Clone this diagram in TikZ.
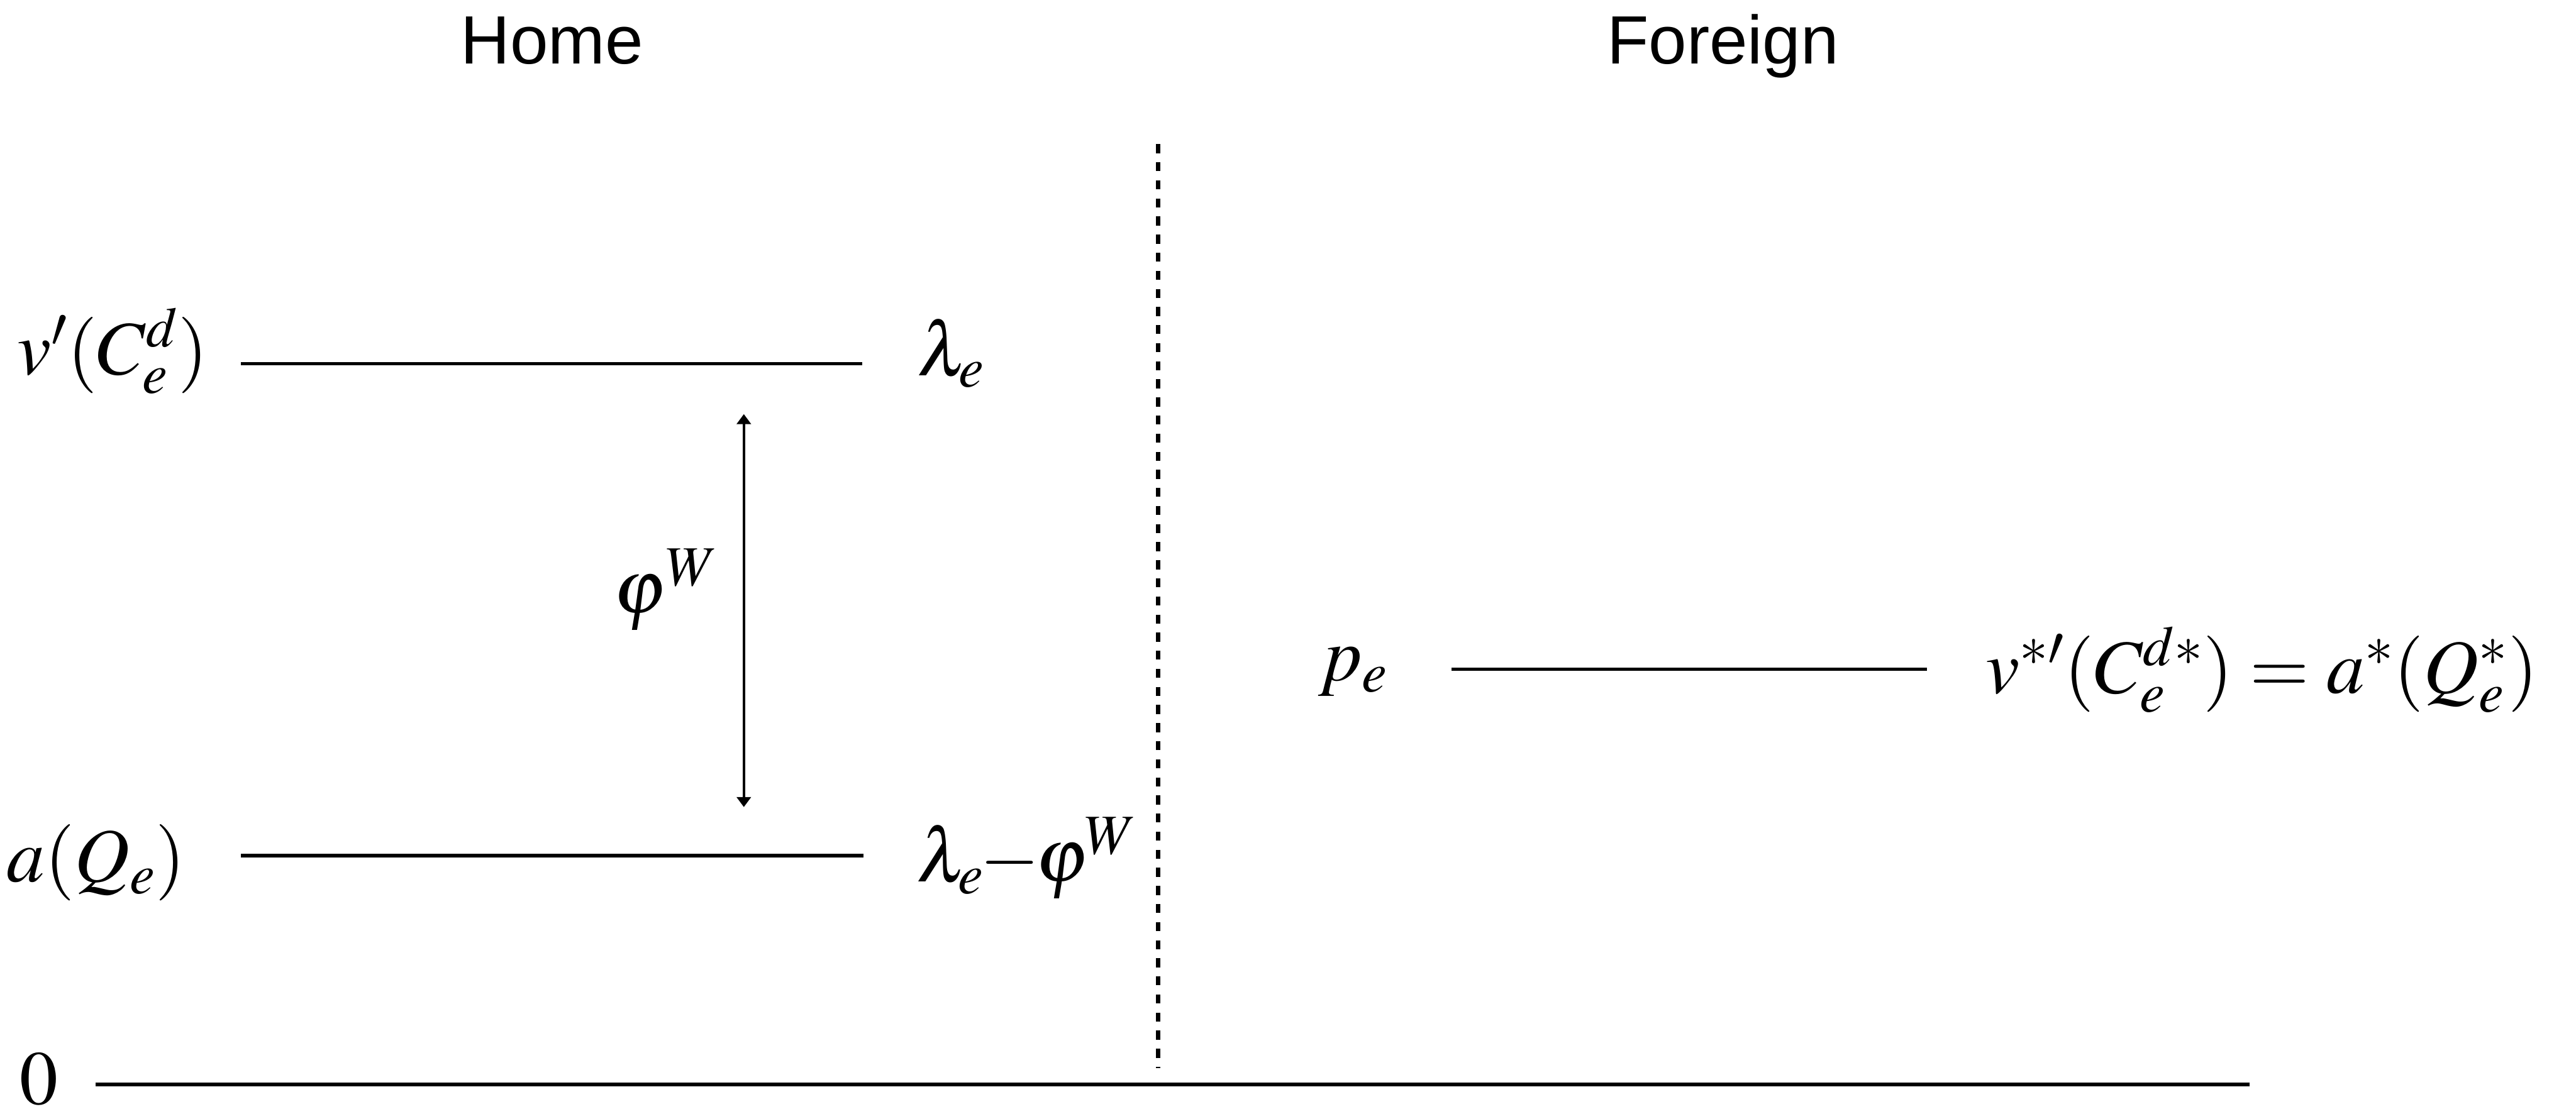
\documentclass[tikz,border=0pt]{standalone}
\usepackage{mathptmx}
\usepackage[no-math]{fontspec}
\setsansfont{Liberation Sans}
\usepackage{tikz}
\usetikzlibrary{arrows.meta,positioning}

\newcommand{\bigmath}{\fontsize{38}{46}\selectfont}
\newcommand{\bigsans}{\sffamily\fontsize{34}{40}\selectfont}

\begin{document}
\begin{tikzpicture}[
    level/.style={line width=1.7pt},
    lab/.style={inner sep=0pt, font=\bigmath},
    head/.style={inner sep=0pt, anchor=base, font=\bigsans}
  ]
    \useasboundingbox (0,0) rectangle (45.02,19.47);
    % titles
    \node[head] (home) at (9.65,18.35) {Home};
    \node[head] (foreign) at (30.11,18.35) {Foreign};
    % border between the two
    \coordinate (bordtop) at (20.24,16.95);
    \coordinate (bordbot) at (20.24,0.80);
    \draw[line width=2.2pt, dash pattern=on 4.5pt off 4.5pt] (bordtop) -- (bordbot);
    % Home, upper level
    \coordinate (upL) at (4.21,13.11);
    \coordinate (upR) at (15.07,13.11);
    \draw[level] (upL) -- (upR);
    \node[lab, anchor=base east] (vprime) at (3.64,12.92) {$v'(C_e^d)$};
    \node[lab, anchor=base west] (lam) at (16.02,12.90) {$\lambda_e$};
    % Home, lower level
    \coordinate (loL) at (4.21,4.51);
    \coordinate (loR) at (15.09,4.51);
    \draw[level] (loL) -- (loR);
    \node[lab, anchor=base east] (aQ) at (3.25,4.05) {$a(Q_e)$};
    \node[lab, anchor=base west] (lamphi) at (16.01,4.05) {$\lambda_e\mkern-1mu{-}\mkern-1mu\varphi^{\mkern-1mu W}$};
    % wedge
    \coordinate (wtop) at (13.00,12.23);
    \coordinate (wbot) at (13.00,5.36);
    \draw[line width=1.4pt, {Triangle[width=7pt,length=5pt]}-{Triangle[width=7pt,length=5pt]}] (wtop) -- (wbot);
    \node[lab, anchor=base west] (phiW) at (10.72,8.75) {$\varphi^{W}$};
    % Foreign level
    \coordinate (frL) at (25.37,7.77);
    \coordinate (frR) at (33.68,7.77);
    \draw[level] (frL) -- (frR);
    \node[lab, anchor=base west] (pe) at (23.03,7.57) {$p_e$};
    \node[lab, anchor=base west] (vstar) at (34.70,7.35) {$v^{*\prime}(C_e^{d*}) = a^*(Q_e^*)$};
    % zero line
    \coordinate (axL) at (1.67,0.51);
    \coordinate (axR) at (39.31,0.51);
    \draw[line width=1.6pt] (axL) -- (axR);
    \node[lab, anchor=base west] (zero) at (0.34,0.16) {$0$};
  \end{tikzpicture}
\end{document}
